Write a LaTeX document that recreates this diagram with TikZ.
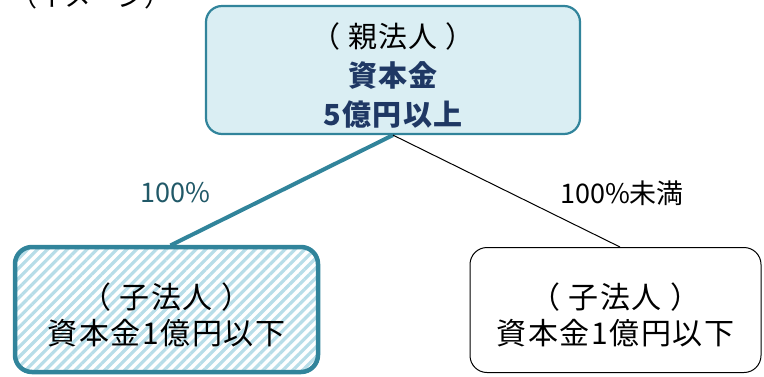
\documentclass[tikz,border=0pt]{standalone}
\usepackage{fontspec}
\setmainfont[LetterSpace=5]{Noto Sans CJK JP}
\newfontfamily\lblfont{Noto Sans CJK JP}
\usetikzlibrary{patterns.meta}
\definecolor{tealline}{HTML}{31849B}
\definecolor{pfill}{HTML}{DAEEF3}
\definecolor{hatchc}{HTML}{B7DDE8}
\definecolor{navy}{HTML}{1F3864}
\definecolor{lblc}{HTML}{215968}
\tikzset{
  parentbox/.style={draw=tealline, line width=2.2pt, fill=pfill, rounded corners=16pt,
    minimum width=374pt, minimum height=128pt, inner sep=0pt},
  ptext/.style={align=center, inner sep=0pt, font=\fontsize{29}{39}\selectfont},
  ctext/.style={align=center, inner sep=0pt, font=\fontsize{30}{36}\selectfont},
  childbox/.style={rounded corners=17pt, minimum height=125pt, inner sep=0pt},
  hatchbox/.style={childbox, draw=tealline, line width=4.5pt, minimum width=303pt,
    preaction={fill=white},
    pattern={Lines[angle=45,distance=7pt,line width=3.2pt]}, pattern color=hatchc},
  plainbox/.style={childbox, draw=black, line width=1pt, minimum width=291pt},
  lbl/.style={inner sep=0pt, font=\lblfont\fontsize{27}{30}\selectfont},
}
\begin{document}
\begin{tikzpicture}[x=1pt,y=-1pt]
\useasboundingbox (0,0) rectangle (764,376);
\node[lbl, anchor=base west] (title) at (10,6) {（イメージ）};
\node[parentbox] (p) at (393,70) {};
\node[ptext] (pt) at ([yshift=-5pt]p.center) {（ 親法人 ）\\\textbf{\color{navy}資本金}\\\textbf{\color{navy}5億円以上}};
\node[hatchbox] (l) at (166.5,309.5) {};
\node[ctext] (lt) at ([yshift=-5pt]l.center) {（ 子法人 ）\\資本金1億円以下};
\node[plainbox] (r) at (615.5,310) {};
\node[ctext] (rt) at ([yshift=-5pt]r.center) {（ 子法人 ）\\資本金1億円以下};
\draw[tealline, line width=4pt] (p.south) -- ([xshift=4pt]l.north);
\draw[black, line width=1pt] (p.south) -- ([xshift=4.5pt]r.north);
\node[lbl, text=lblc] (a) at (175,193) {100\%};
\node[lbl] (b) at (622,193) {100\%未満};
\end{tikzpicture}
\end{document}
